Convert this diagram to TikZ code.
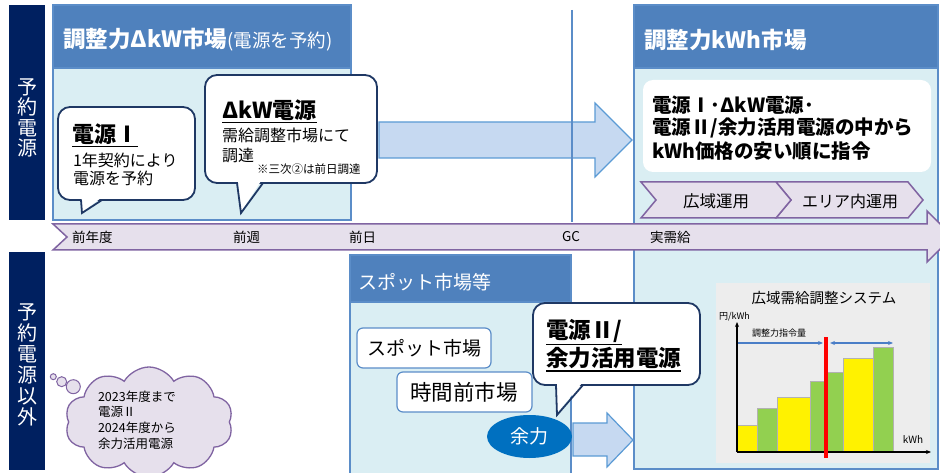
\documentclass[tikz,border=0pt]{standalone}
\usepackage{fontspec}
\setmainfont{Noto Sans CJK JP}
\usetikzlibrary{shapes.geometric,shapes.symbols,arrows.meta}
\newcommand{\fz}[2]{\fontsize{#1}{#2}\selectfont}
\definecolor{navy}{HTML}{002060}
\definecolor{hdrblue}{HTML}{4F81BD}
\definecolor{bodyblue}{HTML}{DAEEF3}
\definecolor{boxblue}{HTML}{5B8DC8}
\definecolor{bubbleline}{HTML}{1F3864}
\definecolor{arrowfill}{HTML}{C6D9F1}
\definecolor{arrowline}{HTML}{5B9BD5}
\definecolor{lav}{HTML}{E6E0EC}
\definecolor{purp}{HTML}{8064A2}
\definecolor{yoryokublue}{HTML}{0070C0}
\definecolor{chartbg}{HTML}{EDEDED}
\definecolor{ygreen}{HTML}{92D050}
\definecolor{cblue}{HTML}{4A7EC7}
\begin{document}
\begin{tikzpicture}[x=1pt,y=-1pt,
  every node/.style={inner sep=0pt, outer sep=0pt},
  navybar/.style={fill=navy},
  hdrbox/.style={fill=hdrblue, draw=boxblue, line width=1.2pt},
  bodybox/.style={fill=bodyblue, draw=boxblue, line width=1.2pt},
  bubble/.style={fill=white, draw=bubbleline, line width=1.8pt, rounded corners=12pt},
  tail/.style={draw=bubbleline, line width=1.8pt, line join=miter},
  fatarrow/.style={fill=arrowfill, draw=arrowline, line width=1.2pt},
  chev/.style={fill=lav, draw=purp, line width=1.5pt},
  mkt/.style={fill=white, draw=boxblue, line width=1.2pt, rounded corners=6pt},
  bar/.style={draw=gray!60, line width=0.6pt},
  uline/.style={line width=1.5pt}]
\useasboundingbox (0,0) rectangle (940,473);
\fill[white] (0,0) rectangle (940,473);

% left bars
\fill[navybar] (9,5) rectangle (45,220);
\node[text=white, align=center, font=\fz{20}{20.3}] (lbltop) at (27,118) {予\\約\\電\\源};
\fill[navybar] (9,252) rectangle (45,470);
\node[text=white, align=center, font=\fz{20}{21}] (lblbot) at (27,365) {予\\約\\電\\源\\以\\外};

% dkW market box
\draw[bodybox] (53,5) rectangle (351,220);
\draw[hdrbox] (53,5) rectangle (351,68);
\node[anchor=west, text=white] (hdr1) at (63,40) {{\fz{22.5}{22.5}\bfseries 調整力ΔkW市場}{\fz{18.5}{18.5}(電源を予約)}};

% kWh market box
\draw[bodybox] (634,5) rectangle (938,469);
\draw[hdrbox] (634,5) rectangle (938,68);
\node[anchor=west, text=white, font=\fz{22.5}{22.5}\bfseries] (hdr2) at (644,40) {調整力kWh市場};

% big arrow
\draw[fatarrow] (379,122) -- (595,122) -- (595,103) -- (632,140) -- (595,177) -- (595,158) -- (379,158) -- cycle;
% GC line
\coordinate (gctop) at (572,10);
\coordinate (gcbot) at (572,222);
\draw[boxblue, line width=1.5pt] (gctop) -- (gcbot);

% bubble 1
\draw[bubble] (58,107) rectangle (195,200);
\fill[white] (81.5,198) -- (82,212) -- (101,198) -- cycle;
\draw[tail] (81,200) -- (82,213) -- (102,200);
\node[anchor=west, font=\fz{22}{22}\bfseries] (b1t) at (72,134) {電源Ⅰ};
\draw[uline] ([yshift=-2pt]b1t.south west) -- ([yshift=-2pt]b1t.south east);
\node[anchor=west, font=\fz{16}{16}] (b1a) at (73,160) {1年契約により};
\node[anchor=west, font=\fz{16}{16}] (b1b) at (73,178) {電源を予約};

% bubble 2
\draw[bubble] (205,75) rectangle (377,183);
\fill[white] (238,181) -- (241,212) -- (261,181) -- cycle;
\draw[tail] (237,183) -- (241,213) -- (263,183);
\node[anchor=west, font=\fz{22}{22}\bfseries] (b2t) at (222,110) {ΔkW電源};
\draw[uline] ([yshift=-2pt]b2t.south west) -- ([yshift=-2pt]b2t.south east);
\node[anchor=west, font=\fz{16}{16}] (b2a) at (222,135) {需給調整市場にて};
\node[anchor=west, font=\fz{16}{16}] (b2b) at (222,155) {調達};
\node[anchor=west, font=\fz{11.5}{11.5}] (b2c) at (257,169) {※三次②は前日調達};

% kWh panel
\fill[white, rounded corners=10pt] (643,80) rectangle (931,172);
\node[anchor=west, font=\fz{19.5}{19.5}\bfseries] (k1) at (652,105) {電源Ⅰ･ΔkW電源･};
\node[anchor=west, font=\fz{19.5}{19.5}\bfseries] (k2) at (652,128) {電源Ⅱ/余力活用電源の中から};
\node[anchor=west, font=\fz{19.5}{19.5}\bfseries] (k3) at (652,151) {kWh価格の安い順に指令};

% chevrons
\draw[chev] (776,182) -- (908,182) -- (923,200) -- (908,218) -- (776,218) -- (791,200) -- cycle;
\draw[chev] (641,182) -- (776,182) -- (791,200) -- (776,218) -- (641,218) -- (656,200) -- cycle;
\node[font=\fz{16.5}{16.5}] (c1) at (716,201) {広域運用};
\node[font=\fz{16}{16}] (c2) at (850,201) {エリア内運用};

% timeline band
\draw[chev] (53,224) -- (927,224) -- (927,211) -- (953,236.5) -- (927,262) -- (927,250) -- (53,250) -- (67,237) -- cycle;
\node[anchor=west, font=\fz{13.5}{13.5}] (t1) at (72,237) {前年度};
\node[anchor=west, font=\fz{13.5}{13.5}] (t2) at (233,237) {前週};
\node[anchor=west, font=\fz{13.5}{13.5}] (t3) at (349,237) {前日};
\node[anchor=west, font=\fz{13.5}{13.5}] (t4) at (562,237) {GC};
\node[anchor=west, font=\fz{13.5}{13.5}] (t5) at (650,237) {実需給};

% spot market box
\draw[bodybox] (350,255) rectangle (571,475);
\draw[hdrbox] (350,255) rectangle (571,302);
\node[anchor=west, text=white, font=\fz{19}{19}] (hdr3) at (358,282) {スポット市場等};
\draw[mkt] (357,328) rectangle (491,368);
\node[anchor=west, font=\fz{19}{19}] (spot) at (367,348) {スポット市場};
\draw[mkt] (397,372) rectangle (532,412);
\node[anchor=west, font=\fz{21.5}{21.5}] (jikan) at (410,392) {時間前市場};
\node[ellipse, fill=yoryokublue, minimum width=85pt, minimum height=43pt, text=white, font=\fz{19}{19}] (yoryoku) at (529.5,436.5) {余力};

% small arrow
\draw[fatarrow] (573,423) -- (607,423) -- (607,413) -- (633,440) -- (607,467) -- (607,456) -- (573,456) -- cycle;

% bubble 3
\draw[bubble] (533,303) rectangle (700,385);
\fill[white] (557,383) -- (557,413) -- (582,383) -- cycle;
\draw[tail] (556,385) -- (557,415) -- (583,385);
\node[anchor=west, font=\fz{22.5}{22.5}\bfseries] (b3t) at (546,331) {電源Ⅱ/};
\draw[uline] ([yshift=-2pt]b3t.south west) -- ([yshift=-2pt]b3t.south east);
\node[anchor=west, font=\fz{22.5}{22.5}\bfseries] (b3b) at (546,358) {余力活用電源};
\draw[uline] ([yshift=-2pt]b3b.south west) -- ([yshift=-2pt]b3b.south east);

% chart
\fill[chartbg] (716,283) rectangle (930,463);
\node[font=\fz{14.5}{14.5}] (ctitle) at (824,298) {広域需給調整システム};
\node[anchor=west, font=\fz{9}{9}] (cy) at (719,317) {円/kWh};
\node[anchor=west, font=\fz{9}{9}] (cl) at (752,333) {調整力指令量};
\node[font=\fz{10}{10}] (cx) at (913,440) {kWh};
\filldraw[bar, fill=yellow] (737,425) rectangle (757,452);
\filldraw[bar, fill=ygreen] (757,408) rectangle (777,452);
\filldraw[bar, fill=yellow] (777,397) rectangle (810,452);
\filldraw[bar, fill=ygreen] (810,381) rectangle (826,452);
\filldraw[bar, fill=ygreen] (826,372) rectangle (843,452);
\filldraw[bar, fill=yellow] (843,358) rectangle (873,452);
\filldraw[bar, fill=ygreen] (873,347) rectangle (893,452);
\coordinate (org) at (737,452);
\coordinate (ytop) at (737,322);
\coordinate (xend) at (931,452);
\draw[line width=1.3pt, -{Stealth[length=5pt,width=4pt]}] (org) -- (ytop);
\draw[line width=1.3pt, -{Stealth[length=5pt,width=4pt]}] (org) -- (xend);
\coordinate (a1) at (738,343);
\coordinate (a2) at (823,343);
\coordinate (a3) at (830,343);
\coordinate (a4) at (893,343);
\draw[cblue, line width=1.2pt, -{Stealth[length=5pt,width=4pt]}] (a1) -- (a2);
\draw[cblue, line width=1.2pt, {Stealth[length=5pt,width=4pt]}-{Stealth[length=5pt,width=4pt]}] (a3) -- (a4);
\coordinate (r1) at (826,337);
\coordinate (r2) at (826,458);
\draw[red, line width=3.5pt] (r1) -- (r2);

% cloud
\node[cloud, cloud puffs=10, cloud puff arc=120, aspect=1.6, fill=lav, draw=purp, line width=1.3pt, minimum width=168pt, minimum height=110pt] (cloud) at (149,422) {};
\draw[fill=lav, draw=purp, line width=1pt] (53.3,376.7) circle (3pt);
\draw[fill=lav, draw=purp, line width=1pt] (61.7,381.7) circle (5pt);
\draw[fill=lav, draw=purp, line width=1pt] (73.3,386.7) circle (7pt);
\node[anchor=west, align=left, font=\fz{12.5}{15.6}] (cloudt) at (98,420) {2023年度まで\\電源Ⅱ\\2024年度から\\余力活用電源};
\end{tikzpicture}
\end{document}
